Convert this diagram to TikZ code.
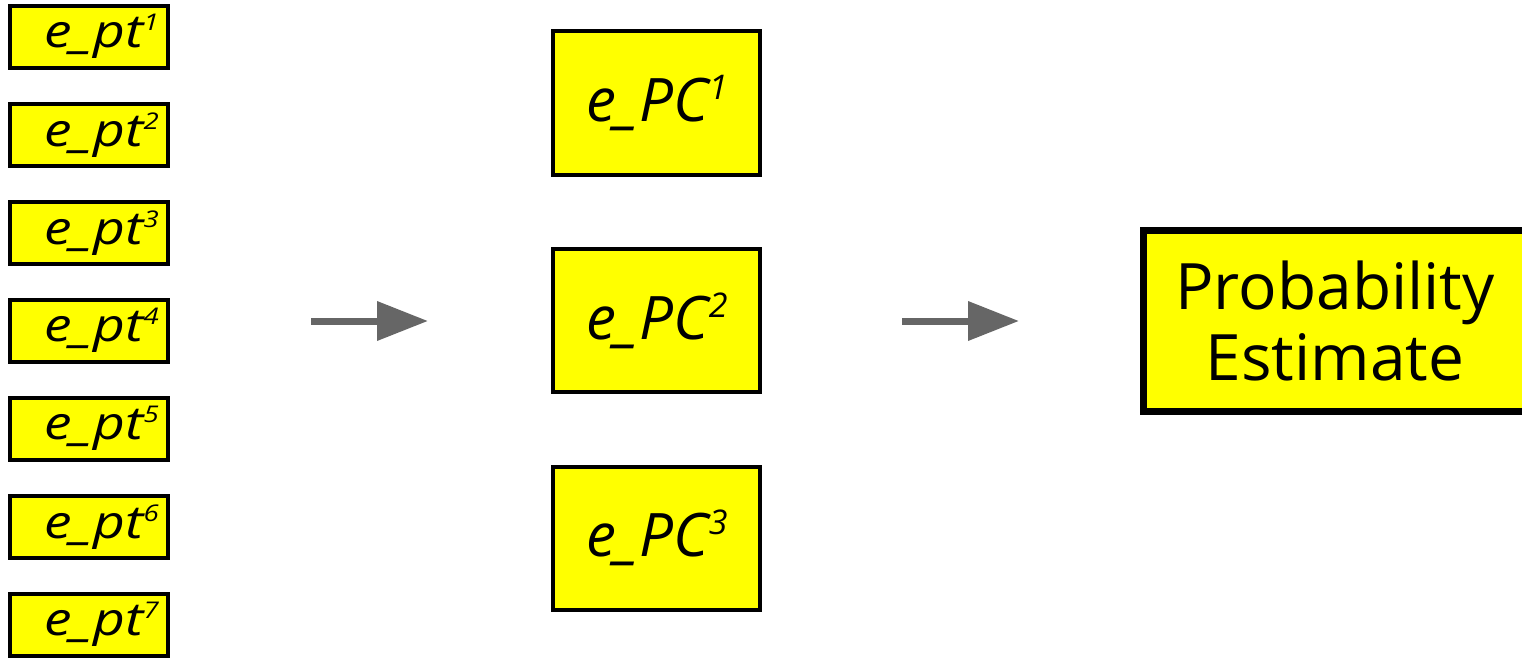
\documentclass[tikz,border=0pt]{standalone}
\usepackage{fontspec}
\setmainfont{Open Sans}
\usepackage{xcolor}
\usepackage{graphicx}
\usepackage{tikz}
\usetikzlibrary{positioning, arrows.meta, calc}

\definecolor{boxyellow}{HTML}{FFFF00}
\definecolor{arrowgray}{HTML}{666666}

% hochgestellter Index
\newcommand{\ptidx}[1]{\raisebox{17pt}{\fontsize{23}{23}\selectfont #1}}
\newcommand{\pcidx}[1]{\raisebox{22pt}{\fontsize{34}{34}\selectfont #1}}

\tikzset{
    ptbox/.style={draw=black, fill=boxyellow, line width=4pt, minimum width=158pt, minimum height=62pt, inner sep=0pt, font=\fontsize{46}{50}\selectfont\itshape},
    pcbox/.style={draw=black, fill=boxyellow, line width=4pt, minimum width=207pt, minimum height=143pt, inner sep=0pt, font=\fontsize{60}{66}\selectfont\itshape},
    outbox/.style={draw=black, fill=boxyellow, line width=6.5pt, minimum width=383pt, minimum height=181pt, inner sep=0pt, align=center, font=\fontsize{64}{71}\selectfont},
    flowarrow/.style={draw=arrowgray, line width=7pt, -{Triangle[length=51pt,width=38pt]}}
}

\begin{document}
\begin{tikzpicture}[x=1pt, y=-1pt]
    \useasboundingbox (0,0) rectangle (1522,658);
    % Eingang: Punktfehler
    \foreach \i in {1,...,7} {
        \node[ptbox] (pt\i) at (88.7, {36.7+98*(\i-1)}) {\hspace*{26pt}\scalebox{1.2}[1]{e\_pt\ptidx{\i}}};
    }
    % Hauptkomponenten
    \foreach \i in {1,2,3} {
        \node[pcbox] (pc\i) at (656.8, {103+217.5*(\i-1)}) {e\_PC\pcidx{\i}};
    }
    % Ausgang
    \node[outbox] (prob) at (1335,321) {Probability\\Estimate};
    % Pfeile
    \coordinate (a1s) at (311,321);
    \coordinate (a1e) at (428,321);
    \coordinate (a2s) at (902,321);
    \coordinate (a2e) at (1019,321);
    \draw[flowarrow] (a1s) -- (a1e);
    \draw[flowarrow] (a2s) -- (a2e);
\end{tikzpicture}
\end{document}
